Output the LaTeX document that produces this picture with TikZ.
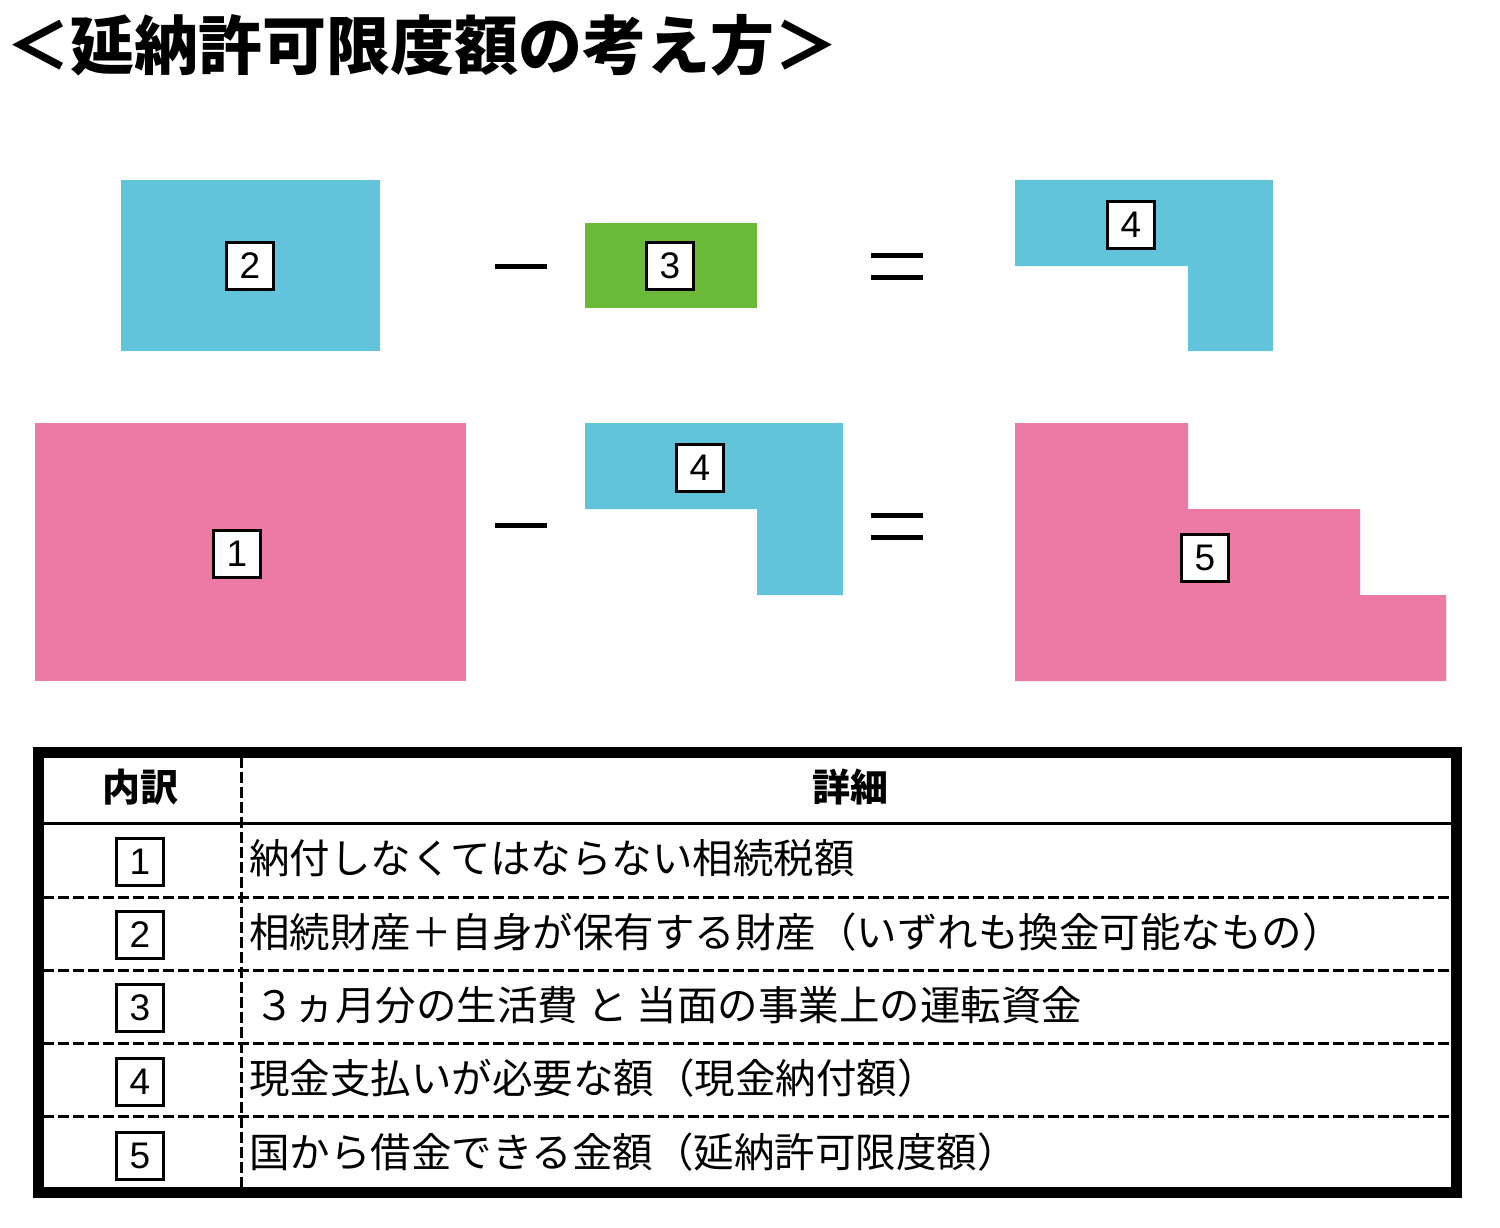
\documentclass[tikz,border=0pt]{standalone}
\usepackage{fontspec}
\setmainfont{Liberation Sans}
\newfontfamily\jp{Noto Sans CJK JP}
\usetikzlibrary{positioning}

\definecolor{PlanBlue}{RGB}{98,196,219}
\definecolor{PlanGreen}{RGB}{107,185,57}
\definecolor{PlanPink}{RGB}{236,122,164}

\begin{document}
\begin{tikzpicture}[
      x = 1pt, y = -1pt,
      numbox/.style={
        draw = black,
        line width = 2.5pt,
        fill = white,
        minimum size = 47pt,
        inner sep = 0pt,
        font = \fontsize{37}{40}\selectfont,
      },
      opline/.style={
        line width = 5pt,
      },
      cell/.style={
        anchor = west,
        inner sep = 0pt,
        font = \jp\fontsize{40.5}{44}\selectfont,
      },
      head/.style={
        inner sep = 0pt,
        font = \jp\bfseries\fontsize{38}{42}\selectfont,
      },
      rowline/.style={
        line width = 3pt,
        dash pattern = on 11pt off 4pt,
      },
    ]
    \useasboundingbox (0,0) rectangle (1500,1228);

    \node[anchor = west, inner sep = 0pt,
      font = \jp\bfseries\fontsize{64}{66}\selectfont] (title) at (6,45)
      {＜延納許可限度額の考え方＞};

    % first row: 2 - 3 = 4
    \fill[PlanBlue] (121,180) rectangle (380,351);
    \node[numbox] (a2) at (250,266) {2};
    \draw[opline] (495,266) -- (547,266);
    \fill[PlanGreen] (585,223) rectangle (757,308);
    \node[numbox] (a3) at (670,266) {3};
    \draw[opline] (871,255) -- (923,255);
    \draw[opline] (871,277) -- (923,277);
    \fill[PlanBlue] (1015,180) -- (1273,180) -- (1273,351) -- (1188,351)
      -- (1188,266) -- (1015,266) -- cycle;
    \node[numbox] (a4) at (1131,225) {4};

    % second row: 1 - 4 = 5
    \fill[PlanPink] (35,423) rectangle (466,681);
    \node[numbox] (b1) at (237,554) {1};
    \draw[opline] (495,525) -- (547,525);
    \fill[PlanBlue] (585,423) -- (843,423) -- (843,595) -- (757,595)
      -- (757,509) -- (585,509) -- cycle;
    \node[numbox] (b4) at (700,468) {4};
    \draw[opline] (871,515) -- (923,515);
    \draw[opline] (871,537) -- (923,537);
    \fill[PlanPink] (1015,423) -- (1188,423) -- (1188,509) -- (1360,509)
      -- (1360,595) -- (1446,595) -- (1446,681) -- (1015,681) -- cycle;
    \node[numbox] (b5) at (1205,558) {5};

    % table
    \draw[line width = 11pt] (38,752) rectangle (1456,1192);
    \draw[line width = 3pt] (43,823) -- (1451,823);
    \draw[rowline] (241,757) -- (241,1187);
    \draw[rowline] (43,897) -- (1451,897);
    \draw[rowline] (43,970) -- (1451,970);
    \draw[rowline] (43,1043) -- (1451,1043);
    \draw[rowline] (43,1116) -- (1451,1116);

    \node[head] (h-kind) at (140,787) {内訳};
    \node[head] (h-detail) at (850,787) {詳細};

    \node[numbox, line width = 3pt] (k1) at (140,862) {1};
    \node[numbox, line width = 3pt] (k2) at (140,935) {2};
    \node[numbox, line width = 3pt] (k3) at (140,1008) {3};
    \node[numbox, line width = 3pt] (k4) at (140,1082) {4};
    \node[numbox, line width = 3pt] (k5) at (140,1156) {5};

    \node[cell] (d1) at (249,858) {納付しなくてはならない相続税額};
    \node[cell] (d2) at (249,932) {相続財産＋自身が保有する財産（いずれも換金可能なもの）};
    \node[cell] (d3) at (254,1005)
      {３ヵ月分の生活費\hspace{0.22em}と\hspace{0.22em}当面の事業上の運転資金};
    \node[cell] (d4) at (249,1078) {現金支払いが必要な額（現金納付額）};
    \node[cell] (d5) at (249,1152) {国から借金できる金額（延納許可限度額）};
  \end{tikzpicture}
\end{document}
